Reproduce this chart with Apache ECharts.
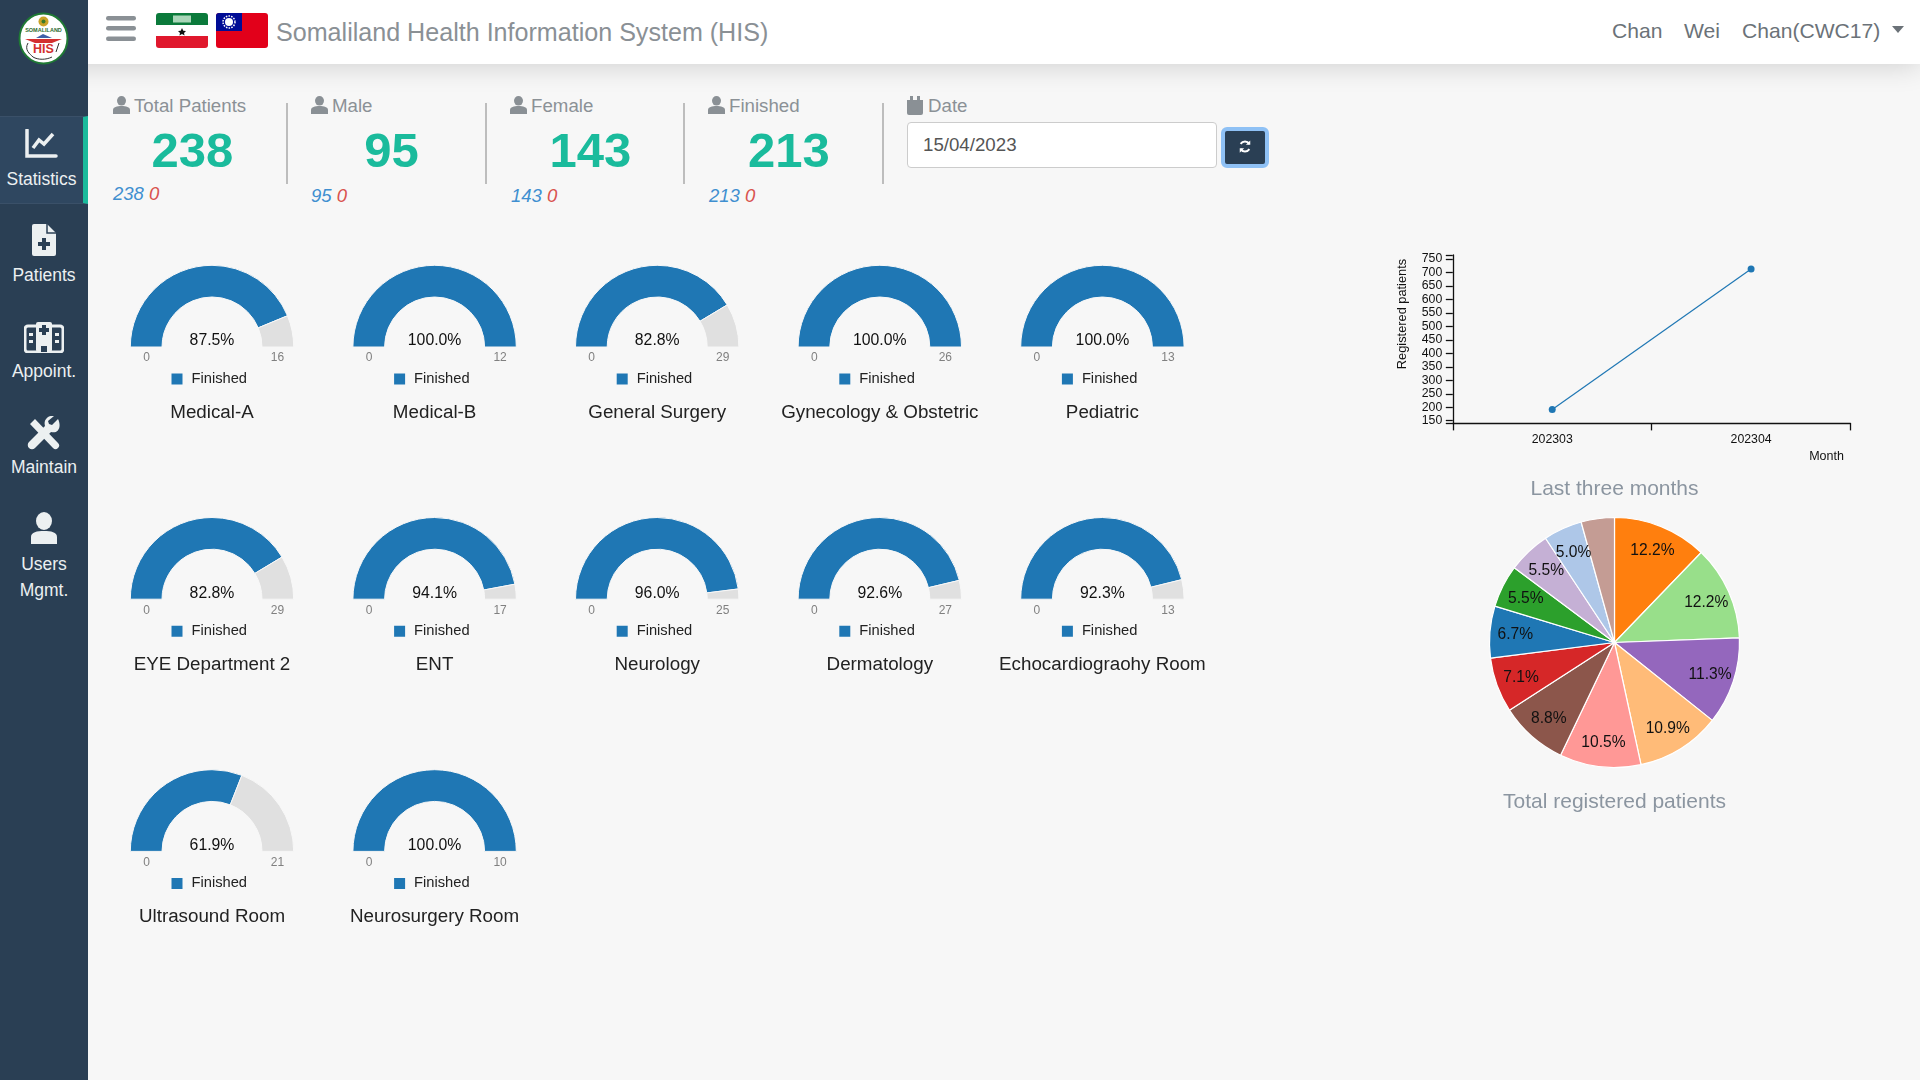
<!DOCTYPE html>
<html><head><meta charset="utf-8"><title>Somaliland HIS</title>
<script src="https://cdn.jsdelivr.net/npm/echarts@6/dist/echarts.min.js"></script>
<style>
*{box-sizing:border-box}
html,body{margin:0;width:1920px;height:1080px;overflow:hidden;background:#f7f7f7;font-family:"Liberation Sans",Arial,sans-serif}
.abs{position:absolute;white-space:nowrap}
#side{left:0;top:0;width:88px;height:1080px;background:#2a3f54}
#active{left:0;top:116px;width:88px;height:88px;background:#2f4760;border-right:5px solid #1abb9c;border-top:1px solid #3a5068;border-bottom:1px solid #3a5068}
#head{left:0;top:0;width:1920px;height:64px;background:#fff;box-shadow:0 2px 28px rgba(0,0,0,.16)}
.nav{color:#ecf0f1;font-size:17.5px;transform:translate(-50%,-50%);text-align:center}
.lab{color:#8b9196;font-size:18.7px;transform:translateY(-50%)}
.num{color:#1abb9c;font-size:49px;font-weight:bold;transform:translate(-50%,-50%)}
.sub{font-size:18.5px;font-style:italic;transform:translateY(-50%)}
.div{width:2px;top:103px;height:81px;background:#bdbdbd}
#chart{left:0;top:0;width:1920px;height:1080px}
</style></head><body>
<div class="abs" id="head"></div>
<div class="abs" id="side"></div><div class="abs" id="active"></div>
<svg class="abs" style="left:16px;top:10px" width="56" height="58" viewBox="0 0 56 58">
<ellipse cx="27.500" cy="28.500" rx="24" ry="25" fill="#fff" stroke="#1f7a34" stroke-width="2"/>
<circle cx="27.500" cy="11.500" r="5" fill="#c9a227"/><circle cx="27.500" cy="11.500" r="2" fill="#3a7a2a"/>
<text x="27.500" y="22" font-size="5.500" text-anchor="middle" fill="#2e6b2e" font-weight="bold">SOMALILAND</text>
<path d="M9 29 L46 29 L36 33 L19 33 Z" fill="#d32f2f"/><path d="M20 28 L27 24 L36 28Z" fill="#3f5fa8"/>
<text x="27.500" y="43" font-size="12.500" text-anchor="middle" fill="#d32f2f" font-weight="bold">HIS</text>
<path d="M12 33C8 40 14 44 17 47C22 50 30 50 36 47M43 33L40 42" fill="none" stroke="#333" stroke-width="1"/>
</svg>
<svg class="abs" style="left:106px;top:16px" width="30" height="26"><g fill="#8a9095"><rect width="30" height="4.500" rx="2.200"/><rect y="10" width="30" height="4.500" rx="2.200"/><rect y="20.500" width="30" height="4.500" rx="2.200"/></g></svg>
<svg class="abs" style="left:156px;top:13px" width="52" height="35"><defs><clipPath id="fr"><rect width="52" height="35" rx="3"/></clipPath></defs><g clip-path="url(#fr)"><rect width="52" height="12" fill="#0b7a3b"/><rect y="12" width="52" height="11" fill="#fff"/><rect y="23" width="52" height="12" fill="#e0182d"/></g><path d="M26 15l1.300 2.800 2.700.3-2 1.800.6 2.600-2.600-1.400-2.600 1.400.6-2.600-2-1.800 2.700-.3Z" fill="#111"/><rect x="17" y="2.500" width="18" height="7" fill="#a9d6b8"/></svg>
<svg class="abs" style="left:216px;top:13px" width="52" height="35"><rect width="52" height="35" fill="#e2001a" rx="3"/><path d="M3 0H26V18H0V3A3 3 0 0 1 3 0Z" fill="#000c95"/><circle cx="13" cy="9" r="4" fill="#fff"/><circle cx="13" cy="9" r="6" fill="none" stroke="#fff" stroke-width="1.500" stroke-dasharray="1.500 1.200"/></svg>
<div class="abs" style="left:276px;top:31.500px;transform:translateY(-50%);color:#8a9095;font-size:25.100px">Somaliland Health Information System (HIS)</div>
<div class="abs" style="left:1612px;top:31px;transform:translateY(-50%);color:#6b7278;font-size:21.100px">Chan</div>
<div class="abs" style="left:1684px;top:31px;transform:translateY(-50%);color:#6b7278;font-size:21.100px">Wei</div>
<div class="abs" style="left:1742px;top:31px;transform:translateY(-50%);color:#6b7278;font-size:21.100px">Chan(CWC17)</div>
<svg class="abs" style="left:1892px;top:26px" width="12" height="8"><path d="M0 0H12L6 7Z" fill="#6b7278"/></svg>

<svg class="abs" style="left:25px;top:129px" width="33" height="30" viewBox="0 0 33 30"><path d="M2 1V27H31" fill="none" stroke="#ecf0f1" stroke-width="3.500" stroke-linecap="round"/><path d="M8 19L14 11L19 15L28 5" fill="none" stroke="#ecf0f1" stroke-width="3.500"/></svg>
<div class="abs nav" style="left:41.500px;top:178.500px">Statistics</div>
<svg class="abs" style="left:32px;top:224px" width="24" height="32" viewBox="0 0 24 32"><path d="M2 0H15L24 9V30a2 2 0 0 1-2 2H2a2 2 0 0 1-2-2V2a2 2 0 0 1 2-2Z" fill="#ecf0f1"/><path d="M10 14h4v4h4v4h-4v4h-4v-4H6v-4h4Z" fill="#2a3f54"/><path d="M15 0V9H24" fill="none" stroke="#2a3f54" stroke-width="1.500"/></svg>
<div class="abs nav" style="left:44px;top:274.500px">Patients</div>
<svg class="abs" style="left:24px;top:321px" width="40" height="32" viewBox="0 0 40 32"><rect x="1" y="5" width="38" height="26" rx="3" fill="none" stroke="#ecf0f1" stroke-width="3"/><rect x="12" y="1" width="16" height="30" rx="2" fill="#ecf0f1"/><path d="M18 4h4v3h3v4h-3v3h-4v-3h-3V7h3Z" fill="#2a3f54"/><path d="M5 12h4v3H5zM5 19h4v3H5zM31 12h4v3h-4zM31 19h4v3h-4zM15 18h4v4h-4zM21 18h4v4h-4z" fill="#ecf0f1"/><rect x="17" y="25" width="6" height="6" fill="#2a3f54"/></svg>
<div class="abs nav" style="left:44px;top:370.500px">Appoint.</div>
<svg class="abs" style="left:27px;top:416px" width="34" height="34" viewBox="0 0 34 34"><path d="M3 8L8 3L31 27a3 3 0 0 1-5 5Z" fill="#ecf0f1"/><path d="M31 3L25 9L22 8L21 5L27 0C22-1 16 3 18 10L2 26a4 4 0 0 0 6 6L24 16C31 18 35 11 31 3Z" fill="#ecf0f1"/></svg>
<div class="abs nav" style="left:44px;top:467px">Maintain</div>
<svg class="abs" style="left:31px;top:512px" width="26" height="32" viewBox="0 0 26 32"><ellipse cx="13" cy="9" rx="8" ry="9" fill="#ecf0f1"/><path d="M0 32V25C0 20 6 19 13 19S26 20 26 25V32Z" fill="#ecf0f1"/></svg>
<div class="abs nav" style="left:44px;top:563.500px">Users</div>
<div class="abs nav" style="left:44px;top:589.500px">Mgmt.</div>

<div id="stats"></div>
<div class="abs div" style="left:286px"></div><div class="abs div" style="left:485px"></div><div class="abs div" style="left:683px"></div><div class="abs div" style="left:882px"></div>
<svg class="abs" style="left:906px;top:96px" width="18" height="19" viewBox="0 0 18 19"><path d="M1 4H17V17a2 2 0 0 1-2 2H3a2 2 0 0 1-2-2Z" fill="#8a9095"/><rect x="4" y="0" width="3" height="5" fill="#8a9095"/><rect x="11" y="0" width="3" height="5" fill="#8a9095"/></svg>
<div class="abs lab" style="left:928px;top:105.500px">Date</div>
<div class="abs" style="left:907px;top:122px;width:310px;height:46px;background:#fff;border:1px solid #ccc;border-radius:4px"></div>
<div class="abs" style="left:923px;top:144.500px;transform:translateY(-50%);color:#555;font-size:18.700px">15/04/2023</div>
<div class="abs" style="left:1221px;top:127px;width:48px;height:41px;background:#2a3f54;border:4px solid #8fc1f5;border-radius:6px"></div>
<svg class="abs" style="left:1238px;top:139px" width="14" height="15" viewBox="0 0 16 16"><path d="M13 5A6 6 0 0 0 3 5M3 11A6 6 0 0 0 13 11" fill="none" stroke="#fff" stroke-width="2.200"/><path d="M14 1V6H9ZM2 15V10H7Z" fill="#fff"/></svg>
<div class="abs" id="chart"></div>
<script>
const statLabels = ['Total Patients', 'Male', 'Female', 'Finished'];
const statValues = [238, 95, 143, 213];
const statBlue = [238, 95, 143, 213];
const statRed = [0, 0, 0, 0];
const departments = ['Medical-A','Medical-B','General Surgery','Gynecology & Obstetric','Pediatric','EYE Department 2','ENT','Neurology','Dermatology','Echocardiograohy Room','Ultrasound Room','Neurosurgery Room'];
const finished = [14,12,24,26,13,24,16,24,25,12,13,10];
const totals = [16,12,29,26,13,29,17,25,27,13,21,10];
const percentLabels = ['87.5%','100.0%','82.8%','100.0%','100.0%','82.8%','94.1%','96.0%','92.6%','92.3%','61.9%','100.0%'];
const months = ['202303','202304'];
const monthlyPatients = [192,713];
const yTickLabels = [150,200,250,300,350,400,450,500,550,600,650,700,750];
const yAxisEnds = [140,765];
const pieShares = [12.2,12.2,11.3,10.9,10.5,8.8,7.1,6.7,5.5,5.5,5.0,4.3];
const pieNames = ['A','B','C','D','E','F','G','H','I','J','K','L'];
const pieColors = ['#ff7f0e','#98df8a','#9467bd','#ffbb78','#ff9896','#8c564b','#d62728','#1f77b4','#2ca02c','#c5b0d5','#aec7e8','#c49c94'];

// page chrome: stat blocks
const statX = [113,311,510,708], statCx=[192.500,391.500,590.500,789], statSubX=[113,311,511,709], statSubY=[194,196,196,196];
let h='';
statLabels.forEach((l,i)=>{
 h+=`<svg class="abs" style="left:${statX[i]}px;top:96px" width="17" height="18" viewBox="0 0 17 18"><ellipse cx="8.500" cy="4.800" rx="4.500" ry="4.800" fill="#8a9095"/><path d="M0 18V14C0 11 4 10 8.500 10S17 11 17 14V18Z" fill="#8a9095"/></svg>`;
 h+=`<div class="abs lab" style="left:${statX[i]+21}px;top:105.500px">${l}</div>`;
 h+=`<div class="abs num" style="left:${statCx[i]}px;top:150px">${statValues[i]}</div>`;
 h+=`<div class="abs sub" style="left:${statSubX[i]}px;top:${statSubY[i]}px"><span style="color:#3f8fd0">${statBlue[i]}</span> <span style="color:#d9534f">${statRed[i]}</span></div>`;
});
document.getElementById('stats').innerHTML=h;

const chart = echarts.init(document.getElementById('chart'), null, {renderer:'canvas'});
const FONT='"Liberation Sans",Arial,sans-serif';
const series=[], legends=[], titles=[], graphics=[];
departments.forEach((name,i)=>{
 const cx=212+222.6*(i%5), row=Math.floor(i/5), cy=347+252.2*row;
 const rest=totals[i]-finished[i];
 const data=[{name:'Finished',value:finished[i],itemStyle:{color:'#1f77b4'}}];
 if(rest>0) data.push({name:'Remaining',value:rest,itemStyle:{color:'#e0e0e0'}});
 series.push({type:'pie',name:name,center:[cx,cy],radius:[50,81.7],startAngle:180,endAngle:0,clockwise:true,sort:null,silent:true,
  label:{show:false},labelLine:{show:false},itemStyle:{borderColor:'#f7f7f7',borderWidth:1},data});
 legends.push({data:['Finished'],left:cx-42.5,top:cy+24.5,padding:0,icon:'rect',itemWidth:13,itemHeight:13,itemGap:6,selectedMode:false,
  textStyle:{fontFamily:FONT,fontSize:14.700,color:'#222',padding:[0,0,0,3]}});
 titles.push({text:name,left:cx,top:cy+56,padding:0,textAlign:'center',textStyle:{fontFamily:FONT,fontSize:18.800,fontWeight:'normal',color:'#222'}});
 const t=(txt,x,y,size,color)=>graphics.push({type:'text',x,y,style:{text:txt,fill:color,font:size+'px '+FONT,align:'center',verticalAlign:'middle'}});
 t(percentLabels[i],cx,cy-6,15.800,'#111');
 t('0',cx-65.500,cy+11,12,'#808080');
 t(String(totals[i]),cx+65.500,cy+11,12,'#808080');
});
// right column
titles.push({text:'Last three months',left:1614.500,top:478.500,padding:0,textAlign:'center',textStyle:{fontFamily:FONT,fontSize:21,fontWeight:'normal',color:'#8b95a0'}});
titles.push({text:'Total registered patients',left:1614.500,top:791.500,padding:0,textAlign:'center',textStyle:{fontFamily:FONT,fontSize:21,fontWeight:'normal',color:'#8b95a0'}});
graphics.push({type:'text',x:1402.500,y:314,rotation:Math.PI/2,style:{text:'Registered patients',fill:'#111',font:'12.800px '+FONT,align:'center',verticalAlign:'middle'}});
graphics.push({type:'text',x:1826.500,y:457,style:{text:'Month',fill:'#111',font:'12.500px '+FONT,align:'center',verticalAlign:'middle'}});

const pieData=pieShares.map((v,i)=>({name:pieNames[i],value:v,itemStyle:{color:pieColors[i]}}));
series.push({type:'pie',center:[1614.500,642.500],radius:[0,125],startAngle:90,clockwise:true,sort:null,silent:true,label:{show:false},labelLine:{show:false},
 itemStyle:{borderColor:'#fff',borderWidth:1.200},data:pieData});
series.push({type:'pie',center:[1615,643.500],radius:[73,121],startAngle:90,clockwise:true,sort:null,silent:true,
 label:{show:true,position:'inside',fontFamily:FONT,fontSize:15.600,color:'#111',formatter:p=>p.value>=5?p.value.toFixed(1)+'%':''},labelLine:{show:false},
 itemStyle:{color:'transparent'},data:pieData.map(d=>({name:d.name,value:d.value,itemStyle:{color:'transparent'}}))});
series.push({type:'line',name:'Registered patients',xAxisIndex:0,yAxisIndex:0,data:monthlyPatients,symbol:'circle',symbolSize:7,
 itemStyle:{color:'#1f77b4'},lineStyle:{color:'#1f77b4',width:1.200},silent:true});

chart.setOption({animation:false,backgroundColor:'transparent',textStyle:{fontFamily:FONT},
 title:titles,legend:legends,graphic:{elements:graphics},
 grid:{left:1452.800,top:255,width:397.700,height:168.400,containLabel:false},
 xAxis:{type:'category',boundaryGap:true,data:months,
  axisLine:{lineStyle:{color:'#111',width:1.300}},axisTick:{show:true,length:7,lineStyle:{color:'#111',width:1.300}},
  axisLabel:{color:'#111',fontSize:12.300,margin:10,fontFamily:FONT},splitLine:{show:false}},
 yAxis:{type:'value',min:yAxisEnds[0],max:yAxisEnds[1],
  axisLine:{show:true,lineStyle:{color:'#111',width:1.300}},
  axisTick:{show:true,length:7,lineStyle:{color:'#111',width:1.300},customValues:yAxisEnds.concat(yTickLabels)},
  axisLabel:{color:'#111',fontSize:12.300,margin:10.500,fontFamily:FONT,customValues:yTickLabels},splitLine:{show:false}},
 series});
</script>
</body></html>
